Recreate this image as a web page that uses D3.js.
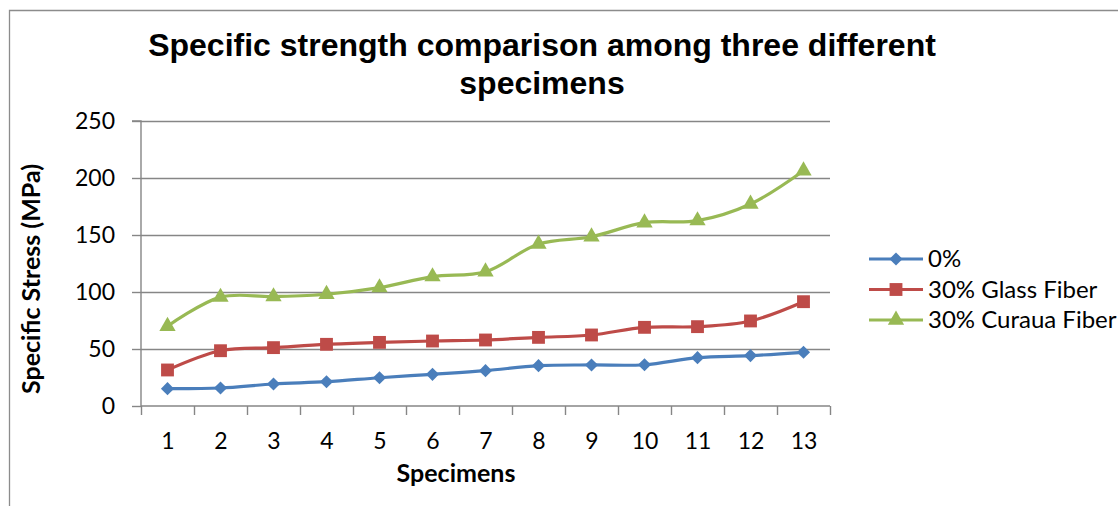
<!DOCTYPE html>
<html>
<head>
<meta charset="utf-8">
<script src="https://cdn.jsdelivr.net/npm/d3@7/dist/d3.min.js"></script>
<style>
  html, body { margin: 0; padding: 0; background: #fff; }
  svg { display: block; }
</style>
</head>
<body>
<svg id="chart" width="1118" height="506"></svg>
<script>
// Specimen numbers along the x axis
const specimens = [1, 2, 3, 4, 5, 6, 7, 8, 9, 10, 11, 12, 13];

// Specific stress (MPa) for each material
const neat = [15.2, 15.8, 19.3, 21.3, 24.8, 27.8, 31.0, 35.4, 36.0, 36.2, 42.4, 44.2, 47.1];
const glassFiber = [31.6, 48.5, 51.2, 54.1, 55.8, 57.0, 57.9, 60.2, 62.3, 69.0, 69.6, 74.6, 91.5];
const curauaFiber = [70.0, 95.5, 96.0, 98.0, 103.8, 113.5, 117.8, 142.1, 148.5, 160.8, 162.6, 177.2, 206.4];

const seriesNames = ["0%", "30% Glass Fiber", "30% Curaua Fiber"];
const yTicks = [0, 50, 100, 150, 200, 250];

const titleLines = ["Specific strength comparison among three different", "specimens"];
const xTitle = "Specimens";
const yTitle = "Specific Stress (MPa)";

const series = [
  { name: seriesNames[0], values: neat, color: "#4A7EBB", symbol: d3.symbolDiamond2, size: 110 },
  { name: seriesNames[1], values: glassFiber, color: "#BE4B48", symbol: d3.symbolSquare, size: 165 },
  { name: seriesNames[2], values: curauaFiber, color: "#98B954", symbol: d3.symbolTriangle, size: 115 }
];

const svg = d3.select("#chart");
const W = 1118, H = 506;
const plot = { left: 141, right: 830, top: 121, bottom: 406 };
const gridColor = "#868686";
const bodyFont = "Lato, 'Open Sans', sans-serif";

// chart frame (runs off the right and bottom edges)
svg.append("path")
  .attr("d", `M9.5,${H} V10.5 H${W}`)
  .attr("fill", "none")
  .attr("stroke", "#8c8c8c")
  .attr("stroke-width", 1.3);

// scales
const x = d3.scaleLinear()
  .domain([0.5, specimens.length + 0.5])
  .range([plot.left, plot.right]);
const y = d3.scaleLinear()
  .domain([0, 250])
  .range([plot.bottom, plot.top]);

// horizontal gridlines
svg.append("g")
  .attr("transform", `translate(${plot.left},0)`)
  .call(d3.axisLeft(y).tickValues(yTicks.slice(1)).tickSize(-(plot.right - plot.left)).tickFormat(""))
  .call(g => g.select(".domain").remove())
  .call(g => g.selectAll("line").attr("stroke", gridColor).attr("stroke-width", 1.4));

// y axis
svg.append("g")
  .attr("transform", `translate(${plot.left},0)`)
  .call(d3.axisLeft(y).tickValues(yTicks).tickSize(9).tickPadding(17))
  .call(g => g.select(".domain").attr("stroke", gridColor).attr("stroke-width", 1.4).attr("d", `M-9,${plot.top}H0V${plot.bottom}`))
  .call(g => g.selectAll("line").attr("stroke", gridColor).attr("stroke-width", 1.4))
  .call(g => g.selectAll("text").attr("font-family", bodyFont).attr("font-size", 23).attr("fill", "#000"));

// x axis: tick marks between categories
const boundaries = d3.range(0, specimens.length + 1).map(i => i + 0.5);
svg.append("g")
  .attr("transform", `translate(0,${plot.bottom})`)
  .call(d3.axisBottom(x).tickValues(boundaries).tickSize(9).tickFormat(""))
  .call(g => g.select(".domain").attr("stroke", gridColor).attr("stroke-width", 1.4).attr("d", `M${plot.left},0H${plot.right}`))
  .call(g => g.selectAll("line").attr("stroke", gridColor).attr("stroke-width", 1.4));

// x axis: category labels
svg.append("g")
  .attr("transform", `translate(0,${plot.bottom})`)
  .call(d3.axisBottom(x).tickValues(specimens).tickSize(0).tickPadding(27).tickFormat(d3.format("d")))
  .call(g => g.select(".domain").remove())
  .call(g => g.selectAll("text").attr("font-family", bodyFont).attr("font-size", 23).attr("fill", "#000"));

// smoothed lines
const line = d3.line()
  .x((d, i) => x(specimens[i]))
  .y(d => y(d))
  .curve(d3.curveCatmullRom.alpha(0.5));

series.forEach(s => {
  svg.append("path")
    .datum(s.values)
    .attr("d", line)
    .attr("fill", "none")
    .attr("stroke", s.color)
    .attr("stroke-width", 3.2)
    .attr("stroke-linejoin", "round")
    .attr("stroke-linecap", "round");
});

// markers
series.forEach(s => {
  const sym = d3.symbol().type(s.symbol).size(s.size);
  svg.append("g")
    .selectAll("path")
    .data(s.values)
    .join("path")
    .attr("d", sym)
    .attr("transform", (d, i) => `translate(${x(specimens[i])},${y(d)})`)
    .attr("fill", s.color);
});

// title
const title = svg.append("text")
  .attr("text-anchor", "middle")
  .attr("font-family", "'Liberation Sans', Arial, sans-serif")
  .attr("font-weight", "bold")
  .attr("font-size", 32)
  .attr("fill", "#000");
titleLines.forEach((t, i) => {
  title.append("tspan").attr("x", 542).attr("y", 56 + i * 38).text(t);
});

// axis titles
svg.append("text")
  .attr("x", 456).attr("y", 482)
  .attr("text-anchor", "middle")
  .attr("font-family", bodyFont)
  .attr("font-weight", "bold")
  .attr("font-size", 25)
  .text(xTitle);

svg.append("text")
  .attr("transform", "translate(40,279) rotate(-90)")
  .attr("text-anchor", "middle")
  .attr("font-family", bodyFont)
  .attr("font-weight", "bold")
  .attr("font-size", 25)
  .text(yTitle);

// legend
const legend = svg.append("g").attr("transform", "translate(869,259)");
series.forEach((s, i) => {
  const row = legend.append("g").attr("transform", `translate(0,${i * 30.5})`);
  row.append("line")
    .attr("x1", 0).attr("x2", 54)
    .attr("stroke", s.color).attr("stroke-width", 3.2);
  row.append("path")
    .attr("d", d3.symbol().type(s.symbol).size(s.size)())
    .attr("transform", "translate(27,0)")
    .attr("fill", s.color);
  row.append("text")
    .attr("x", 59).attr("dy", "0.35em")
    .attr("font-family", bodyFont)
    .attr("font-size", 24)
    .text(s.name);
});
</script>
</body>
</html>
